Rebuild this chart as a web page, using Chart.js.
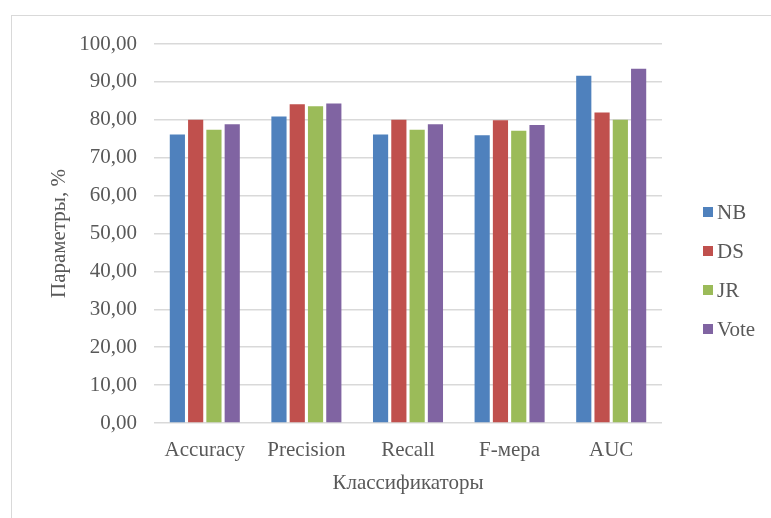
<!DOCTYPE html>
<html>
<head>
<meta charset="utf-8">
<script src="https://cdn.jsdelivr.net/npm/chart.js@4/dist/chart.umd.min.js"></script>
<style>
  html, body { margin: 0; padding: 0; background: #ffffff; }
  #wrap { width: 771px; height: 518px; }
</style>
</head>
<body>
<div id="wrap"><canvas id="chart" width="771" height="518"></canvas></div>
<script>
// Metrics for each classifier, in percent
const categories = ['Accuracy', 'Precision', 'Recall', 'F-мера', 'AUC'];
const seriesNames = ['NB', 'DS', 'JR', 'Vote'];
const nbValues   = [76.1, 80.9, 76.1, 75.9, 91.6];
const dsValues   = [80.0, 84.1, 80.0, 79.9, 81.9];
const jrValues   = [77.4, 83.6, 77.4, 77.1, 80.0];
const voteValues = [78.8, 84.3, 78.8, 78.6, 93.5];
const yTickLabels = ['0,00', '10,00', '20,00', '30,00', '40,00', '50,00',
                     '60,00', '70,00', '80,00', '90,00', '100,00'];

const colors = ['#4F81BD', '#C0504D', '#9BBB59', '#8064A2'];
const textColor = '#595959';
const gridColor = '#d9d9d9';
const serif = 'Liberation Serif';
const fontSize = 21;

const values = [nbValues, dsValues, jrValues, voteValues];

Chart.defaults.font.family = serif;
Chart.defaults.font.size = fontSize;
Chart.defaults.color = textColor;

// Thin frame around the whole chart
const framePlugin = {
  id: 'frame',
  beforeDraw(chart) {
    const ctx = chart.ctx;
    ctx.save();
    ctx.fillStyle = '#ffffff';
    ctx.fillRect(0, 0, chart.width, chart.height);
    ctx.strokeStyle = '#d9d9d9';
    ctx.lineWidth = 1;
    ctx.strokeRect(11.5, 15.5, chart.width, chart.height);
    ctx.restore();
  }
};

// Series key drawn to the right of the plot, one row per dataset
const seriesKeyPlugin = {
  id: 'seriesKey',
  afterDraw(chart) {
    const ctx = chart.ctx;
    const area = chart.chartArea;
    const x0 = area.right + 41;
    const rowStep = 39;
    let y = area.top + 168;
    ctx.save();
    ctx.font = `${fontSize}px "${serif}"`;
    ctx.textBaseline = 'middle';
    ctx.textAlign = 'left';
    chart.data.datasets.forEach(ds => {
      ctx.fillStyle = ds.backgroundColor;
      ctx.fillRect(x0, y - 5, 10, 10);
      ctx.fillStyle = textColor;
      ctx.fillText(ds.label, x0 + 14, y + 1);
      y += rowStep;
    });
    ctx.restore();
  }
};

new Chart(document.getElementById('chart'), {
  type: 'bar',
  data: {
    labels: categories,
    datasets: seriesNames.map((name, i) => ({
      label: name,
      data: values[i],
      backgroundColor: colors[i],
      borderWidth: 0,
      categoryPercentage: 0.72,
      barPercentage: 0.83
    }))
  },
  options: {
    responsive: false,
    animation: false,
    devicePixelRatio: 1,
    layout: { padding: { left: 30, top: 44, right: 0, bottom: 21 } },
    plugins: {
      legend: { display: false },
      tooltip: { enabled: false }
    },
    scales: {
      x: {
        grid: { display: false, drawTicks: false },
        border: { display: false },
        ticks: { color: textColor, padding: 15, font: { family: serif, size: fontSize } },
        title: {
          display: true,
          text: 'Классификаторы',
          color: textColor,
          padding: 1,
          font: { family: serif, size: fontSize }
        },
        afterFit(scale) { scale.height = 74; }
      },
      y: {
        min: 0,
        max: 100,
        ticks: {
          stepSize: 10,
          padding: 17,
          color: textColor,
          font: { family: serif, size: fontSize },
          callback: (v, i) => yTickLabels[i]
        },
        grid: { color: gridColor, lineWidth: 1.5, drawTicks: false },
        border: { display: false },
        title: {
          display: true,
          text: 'Параметры, %',
          color: textColor,
          padding: 17,
          font: { family: serif, size: fontSize }
        },
        afterFit(scale) { scale.width = 124; }
      },
      // room on the right for the series key
      keySpace: {
        position: 'right',
        display: true,
        grid: { display: false, drawTicks: false },
        border: { display: false },
        ticks: { display: false },
        afterFit(scale) { scale.width = 109; }
      }
    }
  },
  plugins: [framePlugin, seriesKeyPlugin]
});
</script>
</body>
</html>
